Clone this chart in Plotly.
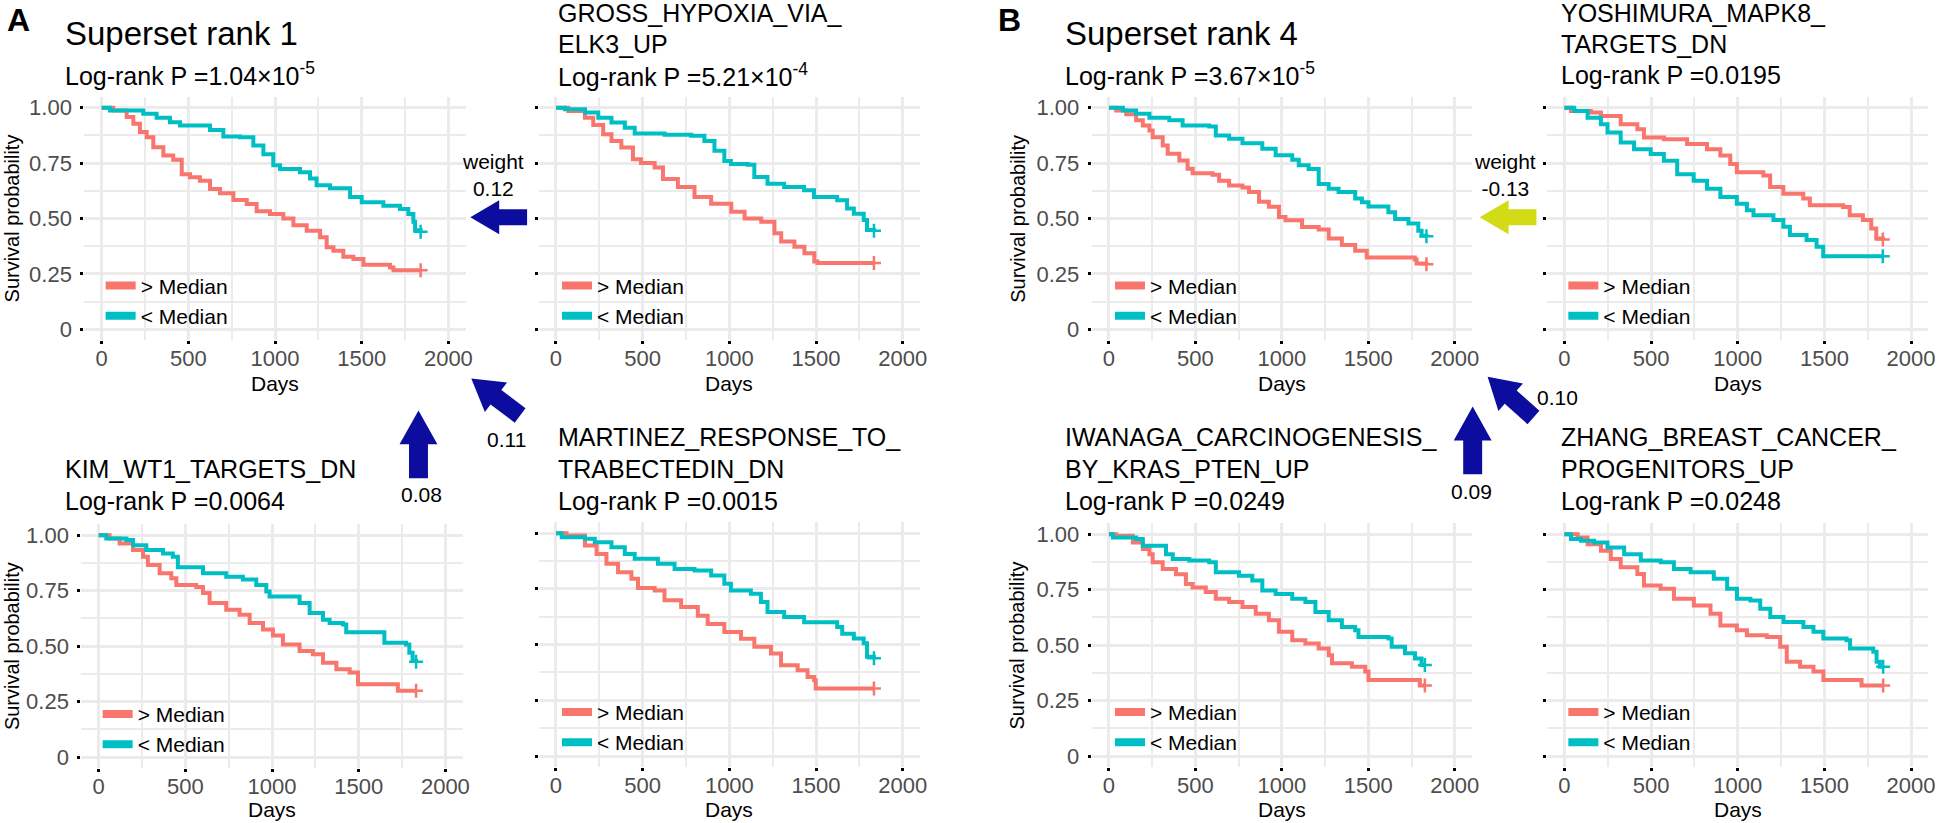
import math
import plotly.graph_objects as go

W, H = 1943, 823

RED = "#F8766D"
CYAN = "#00BFC4"
BLUE = "#0C0C9E"
YELLOW = "#D3DB16"
FONT = "Liberation Sans"

group_names = ["> Median", "< Median"]
x_ticks = [0, 500, 1000, 1500, 2000]
y_ticks = [0, 0.25, 0.5, 0.75, 1.0]
y_ticklabels = ["0", "0.25", "0.50", "0.75", "1.00"]

# ---------------- data: Kaplan-Meier steps (days, survival) ----------------
p1_hi_days = [0, 67, 144, 183, 221, 260, 298, 356, 413, 462, 510, 567, 625, 683, 760, 837, 894, 971, 1048, 1106, 1183, 1260, 1298, 1337, 1394, 1452, 1510, 1663, 1683, 1840]
p1_hi_surv = [1.0, 0.988, 0.958, 0.928, 0.89, 0.867, 0.822, 0.784, 0.765, 0.70, 0.686, 0.67, 0.633, 0.614, 0.584, 0.566, 0.533, 0.52, 0.50, 0.47, 0.445, 0.415, 0.37, 0.355, 0.327, 0.317, 0.291, 0.279, 0.267, 0.267]
p1_lo_days = [0, 48, 240, 317, 394, 452, 625, 702, 798, 875, 933, 990, 1029, 1144, 1202, 1240, 1317, 1433, 1500, 1625, 1721, 1769, 1798, 1808, 1840]
p1_lo_surv = [1.0, 0.988, 0.973, 0.955, 0.935, 0.92, 0.90, 0.87, 0.867, 0.83, 0.79, 0.74, 0.724, 0.709, 0.68, 0.65, 0.636, 0.597, 0.573, 0.558, 0.543, 0.52, 0.485, 0.447, 0.44]

p2_hi_days = [0, 71, 167, 215, 272, 320, 377, 444, 490, 569, 617, 703, 799, 895, 1011, 1088, 1184, 1260, 1299, 1375, 1433, 1490, 1508, 1834]
p2_hi_surv = [1.0, 0.985, 0.955, 0.922, 0.88, 0.85, 0.82, 0.768, 0.75, 0.73, 0.678, 0.642, 0.597, 0.567, 0.53, 0.50, 0.485, 0.433, 0.396, 0.373, 0.343, 0.306, 0.299, 0.299]
p2_lo_days = [0, 52, 167, 244, 320, 397, 454, 626, 780, 856, 914, 971, 1009, 1105, 1144, 1220, 1316, 1431, 1488, 1622, 1679, 1718, 1775, 1794, 1834]
p2_lo_surv = [1.0, 0.993, 0.978, 0.955, 0.933, 0.91, 0.884, 0.878, 0.873, 0.85, 0.806, 0.76, 0.746, 0.743, 0.687, 0.657, 0.642, 0.627, 0.597, 0.582, 0.545, 0.522, 0.493, 0.448, 0.445]

p3_hi_days = [0, 63, 121, 198, 256, 284, 352, 419, 448, 563, 602, 640, 736, 813, 871, 948, 1005, 1063, 1159, 1236, 1294, 1371, 1448, 1496, 1726, 1831]
p3_hi_surv = [1.0, 0.985, 0.963, 0.933, 0.903, 0.866, 0.828, 0.806, 0.776, 0.766, 0.739, 0.694, 0.664, 0.642, 0.604, 0.575, 0.548, 0.507, 0.478, 0.463, 0.425, 0.396, 0.381, 0.328, 0.299, 0.299]
p3_lo_days = [0, 44, 160, 198, 275, 371, 428, 457, 602, 736, 832, 909, 967, 986, 1159, 1217, 1294, 1332, 1409, 1428, 1648, 1773, 1792, 1811, 1831]
p3_lo_surv = [1.0, 0.985, 0.978, 0.955, 0.933, 0.918, 0.903, 0.855, 0.828, 0.813, 0.80, 0.776, 0.746, 0.724, 0.694, 0.649, 0.619, 0.604, 0.597, 0.563, 0.515, 0.507, 0.47, 0.433, 0.43]

p4_hi_days = [0, 61, 167, 234, 291, 358, 435, 473, 569, 626, 722, 818, 875, 971, 1067, 1144, 1240, 1298, 1394, 1451, 1489, 1498, 1834]
p4_hi_surv = [1.0, 0.99, 0.945, 0.907, 0.863, 0.825, 0.796, 0.754, 0.743, 0.699, 0.669, 0.63, 0.593, 0.557, 0.527, 0.49, 0.46, 0.407, 0.385, 0.355, 0.34, 0.303, 0.303]
p4_lo_days = [0, 33, 167, 224, 320, 397, 454, 588, 684, 799, 895, 971, 1009, 1124, 1182, 1220, 1316, 1431, 1622, 1651, 1718, 1775, 1794, 1834]
p4_lo_surv = [1.0, 0.982, 0.975, 0.96, 0.937, 0.907, 0.885, 0.863, 0.84, 0.833, 0.81, 0.773, 0.743, 0.728, 0.691, 0.646, 0.624, 0.601, 0.579, 0.549, 0.528, 0.506, 0.446, 0.439]

p5_hi_days = [0, 42, 100, 157, 196, 234, 253, 311, 340, 407, 455, 484, 599, 637, 695, 772, 810, 868, 925, 983, 1021, 1117, 1213, 1271, 1347, 1424, 1491, 1769, 1779, 1836]
p5_hi_surv = [1.0, 0.988, 0.97, 0.943, 0.92, 0.897, 0.867, 0.83, 0.792, 0.762, 0.725, 0.704, 0.698, 0.67, 0.649, 0.64, 0.62, 0.576, 0.553, 0.507, 0.492, 0.462, 0.45, 0.41, 0.38, 0.354, 0.324, 0.315, 0.297, 0.294]
p5_lo_days = [0, 81, 157, 234, 349, 426, 580, 618, 695, 772, 887, 964, 1060, 1098, 1155, 1213, 1271, 1328, 1424, 1463, 1501, 1616, 1655, 1732, 1789, 1808, 1836]
p5_lo_surv = [1.0, 0.988, 0.973, 0.955, 0.943, 0.92, 0.915, 0.875, 0.86, 0.84, 0.815, 0.785, 0.765, 0.74, 0.724, 0.656, 0.634, 0.62, 0.59, 0.573, 0.554, 0.528, 0.498, 0.478, 0.445, 0.422, 0.42]

p6_hi_days = [0, 38, 153, 211, 325, 421, 459, 574, 708, 823, 900, 957, 995, 1148, 1187, 1263, 1378, 1416, 1608, 1646, 1722, 1770, 1799, 1837]
p6_hi_surv = [1.0, 0.985, 0.978, 0.963, 0.925, 0.903, 0.866, 0.858, 0.836, 0.813, 0.784, 0.746, 0.709, 0.694, 0.642, 0.612, 0.59, 0.56, 0.552, 0.515, 0.493, 0.455, 0.41, 0.405]
p6_lo_days = [0, 57, 134, 211, 249, 325, 402, 498, 574, 651, 746, 823, 900, 995, 1053, 1091, 1206, 1263, 1301, 1397, 1455, 1493, 1837]
p6_lo_surv = [1.0, 0.985, 0.955, 0.925, 0.888, 0.843, 0.813, 0.791, 0.761, 0.70, 0.67, 0.634, 0.597, 0.567, 0.537, 0.515, 0.493, 0.463, 0.425, 0.403, 0.373, 0.33, 0.33]

p7_hi_days = [0, 42, 138, 196, 234, 253, 311, 388, 445, 484, 560, 618, 695, 772, 849, 925, 983, 1060, 1136, 1213, 1271, 1290, 1405, 1482, 1501, 1798, 1827]
p7_hi_surv = [1.0, 0.993, 0.963, 0.933, 0.91, 0.873, 0.843, 0.82, 0.776, 0.76, 0.739, 0.709, 0.694, 0.672, 0.642, 0.612, 0.56, 0.522, 0.507, 0.485, 0.455, 0.418, 0.403, 0.381, 0.343, 0.318, 0.318]
p7_lo_days = [0, 23, 157, 196, 330, 369, 465, 580, 618, 752, 829, 887, 964, 1060, 1136, 1194, 1271, 1347, 1424, 1443, 1616, 1635, 1712, 1770, 1808, 1827]
p7_lo_surv = [1.0, 0.985, 0.978, 0.948, 0.91, 0.888, 0.881, 0.873, 0.828, 0.813, 0.791, 0.746, 0.731, 0.709, 0.694, 0.649, 0.612, 0.582, 0.567, 0.537, 0.53, 0.493, 0.463, 0.44, 0.41, 0.41]

p8_hi_days = [0, 77, 134, 211, 268, 325, 421, 459, 555, 632, 747, 843, 900, 995, 1053, 1168, 1245, 1283, 1360, 1437, 1494, 1714, 1839]
p8_hi_surv = [1.0, 0.985, 0.955, 0.925, 0.888, 0.851, 0.821, 0.769, 0.754, 0.709, 0.679, 0.642, 0.589, 0.567, 0.545, 0.537, 0.493, 0.425, 0.403, 0.381, 0.343, 0.318, 0.318]
p8_lo_days = [0, 38, 96, 172, 249, 345, 441, 556, 632, 728, 862, 939, 996, 1073, 1130, 1188, 1264, 1379, 1437, 1494, 1628, 1648, 1782, 1801, 1820, 1839]
p8_lo_surv = [1.0, 0.978, 0.97, 0.963, 0.94, 0.91, 0.881, 0.873, 0.843, 0.828, 0.799, 0.754, 0.709, 0.701, 0.664, 0.627, 0.604, 0.582, 0.56, 0.53, 0.522, 0.485, 0.47, 0.425, 0.403, 0.403]

# ---------------- text ----------------
panel_title_lines = [
    ["Superset rank 1"],
    ["GROSS_HYPOXIA_VIA_", "ELK3_UP"],
    ["KIM_WT1_TARGETS_DN"],
    ["MARTINEZ_RESPONSE_TO_", "TRABECTEDIN_DN"],
    ["Superset rank 4"],
    ["YOSHIMURA_MAPK8_", "TARGETS_DN"],
    ["IWANAGA_CARCINOGENESIS_", "BY_KRAS_PTEN_UP"],
    ["ZHANG_BREAST_CANCER_", "PROGENITORS_UP"],
]
panel_pvalues = ["1.04×10<sup>-5</sup>", "5.21×10<sup>-4</sup>", "0.0064", "0.0015",
                 "3.67×10<sup>-5</sup>", "0.0195", "0.0249", "0.0248"]
arrow_weights = ["weight<br>0.12", "0.11", "0.08", "weight<br>-0.13", "0.10", "0.09"]

curves = [
    (p1_hi_days, p1_hi_surv, p1_lo_days, p1_lo_surv),
    (p2_hi_days, p2_hi_surv, p2_lo_days, p2_lo_surv),
    (p3_hi_days, p3_hi_surv, p3_lo_days, p3_lo_surv),
    (p4_hi_days, p4_hi_surv, p4_lo_days, p4_lo_surv),
    (p5_hi_days, p5_hi_surv, p5_lo_days, p5_lo_surv),
    (p6_hi_days, p6_hi_surv, p6_lo_days, p6_lo_surv),
    (p7_hi_days, p7_hi_surv, p7_lo_days, p7_lo_surv),
    (p8_hi_days, p8_hi_surv, p8_lo_days, p8_lo_surv),
]

# ---------------- layout geometry (pixels) ----------------
panel_boxes = [  # left, right, top, bottom
    (84.6, 467.4, 96, 340.6),
    (540.6, 923.4, 96, 340.6),
    (81.6, 464.4, 525, 770),
    (540.6, 923.4, 523, 769),
    (1095.6, 1477.4, 96, 340.6),
    (1552.6, 1935.4, 96, 340.6),
    (1095.6, 1477.4, 524, 769),
    (1552.6, 1935.4, 524, 769),
]
has_ylabels = [True, False, True, False, True, False, True, False]
title_left = [63, 558, 63, 558, 1067, 1565, 1067, 1565]
title_rows = [[33], [12, 43], [470], [438, 470], [33], [12, 43], [438, 470], [438, 470]]
pval_row = [73, 74, 502, 502, 73, 74, 502, 502]
legend_pos = [(101, 301), (559, 301), (98, 731), (559, 729), (1114, 301), (1569, 301), (1114, 729), (1569, 729)]
days_label_y = [384, 384, 811, 811, 384, 384, 811, 811]
ytitle_x = [12, None, 12, None, 1021, None, 1021, None]


def fx(x):
    return x / W


def fy(y):
    return 1 - y / H


fig = go.Figure()
annotations = []
shapes = []
layout = {}

for i in range(8):
    n = i + 1
    xa = "x" if n == 1 else f"x{n}"
    ya = "y" if n == 1 else f"y{n}"
    lg = "legend" if n == 1 else f"legend{n}"
    L, R, T, B = panel_boxes[i]
    hi_d, hi_s, lo_d, lo_s = curves[i]
    for d, s, col, name in [(hi_d, hi_s, RED, group_names[0]), (lo_d, lo_s, CYAN, group_names[1])]:
        fig.add_trace(go.Scatter(x=d, y=s, mode="lines", line=dict(color=col, width=4, shape="hv"),
                                 xaxis=xa, yaxis=ya, showlegend=False, hoverinfo="skip"))
        fig.add_trace(go.Scatter(x=[d[-1]], y=[s[-1]], mode="markers",
                                 marker=dict(symbol="cross-thin", size=10, line=dict(color=col, width=2.5)),
                                 xaxis=xa, yaxis=ya, showlegend=False, hoverinfo="skip"))
        fig.add_trace(go.Scatter(x=[None], y=[None], mode="lines", line=dict(color=col, width=8),
                                 name=name, xaxis=xa, yaxis=ya, legend=lg, showlegend=True))

    layout[f"xaxis{n}"] = dict(
        domain=[fx(L), fx(R)], anchor=ya, range=[-100, 2100],
        tickmode="array", tickvals=x_ticks, ticktext=[str(v) for v in x_ticks],
        ticks="outside", ticklen=3, tickwidth=3, tickcolor="black",
        tickfont=dict(family=FONT, size=22, color="#4D4D4D"), ticklabelstandoff=-5,
        showgrid=True, gridcolor="#EBEBEB", gridwidth=3, zeroline=False, showline=False,
        minor=dict(tickmode="array", tickvals=[250, 750, 1250, 1750], showgrid=True,
                   gridcolor="#EBEBEB", gridwidth=2, ticks=""),
        fixedrange=True,
    )
    layout[f"yaxis{n}"] = dict(
        domain=[fy(B), fy(T)], anchor=xa, range=[-0.05, 1.05],
        tickmode="array", tickvals=y_ticks, ticktext=y_ticklabels, showticklabels=has_ylabels[i],
        ticks="outside", ticklen=3, tickwidth=3, tickcolor="black",
        tickfont=dict(family=FONT, size=22, color="#4D4D4D"), ticklabelstandoff=4,
        showgrid=True, gridcolor="#EBEBEB", gridwidth=3, zeroline=False, showline=False,
        minor=dict(tickmode="array", tickvals=[0.125, 0.375, 0.625, 0.875], showgrid=True,
                   gridcolor="#EBEBEB", gridwidth=2, ticks=""),
        fixedrange=True,
    )
    lx, ly = legend_pos[i]
    layout[lg] = dict(x=fx(lx), y=fy(ly), xanchor="left", yanchor="middle",
                      bgcolor="rgba(0,0,0,0)", borderwidth=0,
                      font=dict(family=FONT, size=21, color="black"),
                      tracegroupgap=0, itemwidth=30)

    # titles
    big = i in (0, 4)
    for line, yy in zip(panel_title_lines[i], title_rows[i]):
        annotations.append(dict(x=fx(title_left[i]), y=fy(yy), xref="paper", yref="paper",
                                text=line, showarrow=False, xanchor="left", yanchor="middle",
                                font=dict(family=FONT, size=33 if big else 25, color="black")))
    annotations.append(dict(x=fx(title_left[i]), y=fy(pval_row[i]), xref="paper", yref="paper",
                            text="Log-rank P =" + panel_pvalues[i], showarrow=False,
                            xanchor="left", yanchor="middle",
                            font=dict(family=FONT, size=25, color="black")))
    # axis titles
    annotations.append(dict(x=fx((L + R) / 2), y=fy(days_label_y[i]), xref="paper", yref="paper",
                            text="Days", showarrow=False, xanchor="center", yanchor="middle",
                            font=dict(family=FONT, size=21, color="black")))
    if has_ylabels[i]:
        annotations.append(dict(x=fx(ytitle_x[i]), y=fy((T + B) / 2), xref="paper", yref="paper",
                                text="Survival probability", showarrow=False, textangle=-90,
                                xanchor="center", yanchor="middle",
                                font=dict(family=FONT, size=20, color="black")))

# panel letters
for letter, (lx, ly) in zip(["A", "B"], [(19, 19), (1013, 19)]):
    annotations.append(dict(x=fx(lx), y=fy(ly), xref="paper", yref="paper", text=f"<b>{letter}</b>",
                            showarrow=False, xanchor="center", yanchor="middle",
                            font=dict(family=FONT, size=32, color="black")))


# block arrows
def arrow_path(tip, tail, shaft_w, head_len, head_w):
    tx, ty = tip
    sx, sy = tail
    dx, dy = sx - tx, sy - ty
    ln = math.hypot(dx, dy)
    ux, uy = dx / ln, dy / ln
    nx, ny = -uy, ux
    bx, by = tx + ux * head_len, ty + uy * head_len
    pts = [(tx, ty),
           (bx + nx * head_w / 2, by + ny * head_w / 2),
           (bx + nx * shaft_w / 2, by + ny * shaft_w / 2),
           (sx + nx * shaft_w / 2, sy + ny * shaft_w / 2),
           (sx - nx * shaft_w / 2, sy - ny * shaft_w / 2),
           (bx - nx * shaft_w / 2, by - ny * shaft_w / 2),
           (bx - nx * head_w / 2, by - ny * head_w / 2)]
    return "M " + " L ".join(f"{fx(x):.5f},{fy(y):.5f}" for x, y in pts) + " Z"


arrow_specs = [  # tip, tail, shaft width, head length, head width, colour
    ((472, 217), (529, 217), 16, 29, 34, BLUE),
    ((473, 379), (522, 416), 18, 31, 37, BLUE),
    ((420, 411), (420, 479), 19, 34, 38, BLUE),
    ((1485, 217), (1542, 217), 16, 29, 34, YELLOW),
    ((1493, 377), (1539, 418), 18, 31, 37, BLUE),
    ((1478, 407), (1478, 475), 19, 34, 38, BLUE),
]
arrow_label_pos = [(495, 175), (508, 440), (423, 495), (1510, 175), (1563, 398), (1477, 492)]
for (tip, tail, sw, hl, hw, col) in arrow_specs:
    shapes.append(dict(type="path", xref="paper", yref="paper", path=arrow_path(tip, tail, sw, hl, hw),
                       fillcolor=col, line=dict(width=0), layer="above"))
for txt, (lx, ly) in zip(arrow_weights, arrow_label_pos):
    annotations.append(dict(x=fx(lx), y=fy(ly), xref="paper", yref="paper", text=txt,
                            showarrow=False, xanchor="center", yanchor="middle",
                            font=dict(family=FONT, size=21, color="black")))

fig.update_layout(
    width=W, height=H, margin=dict(l=0, r=0, t=0, b=0),
    paper_bgcolor="white", plot_bgcolor="white",
    annotations=annotations, shapes=shapes,
    font=dict(family=FONT),
    **layout,
)

fig.write_html("out.html", config={"displayModeBar": False},
               post_script="document.body.style.margin='0';document.body.style.overflow='hidden';")
